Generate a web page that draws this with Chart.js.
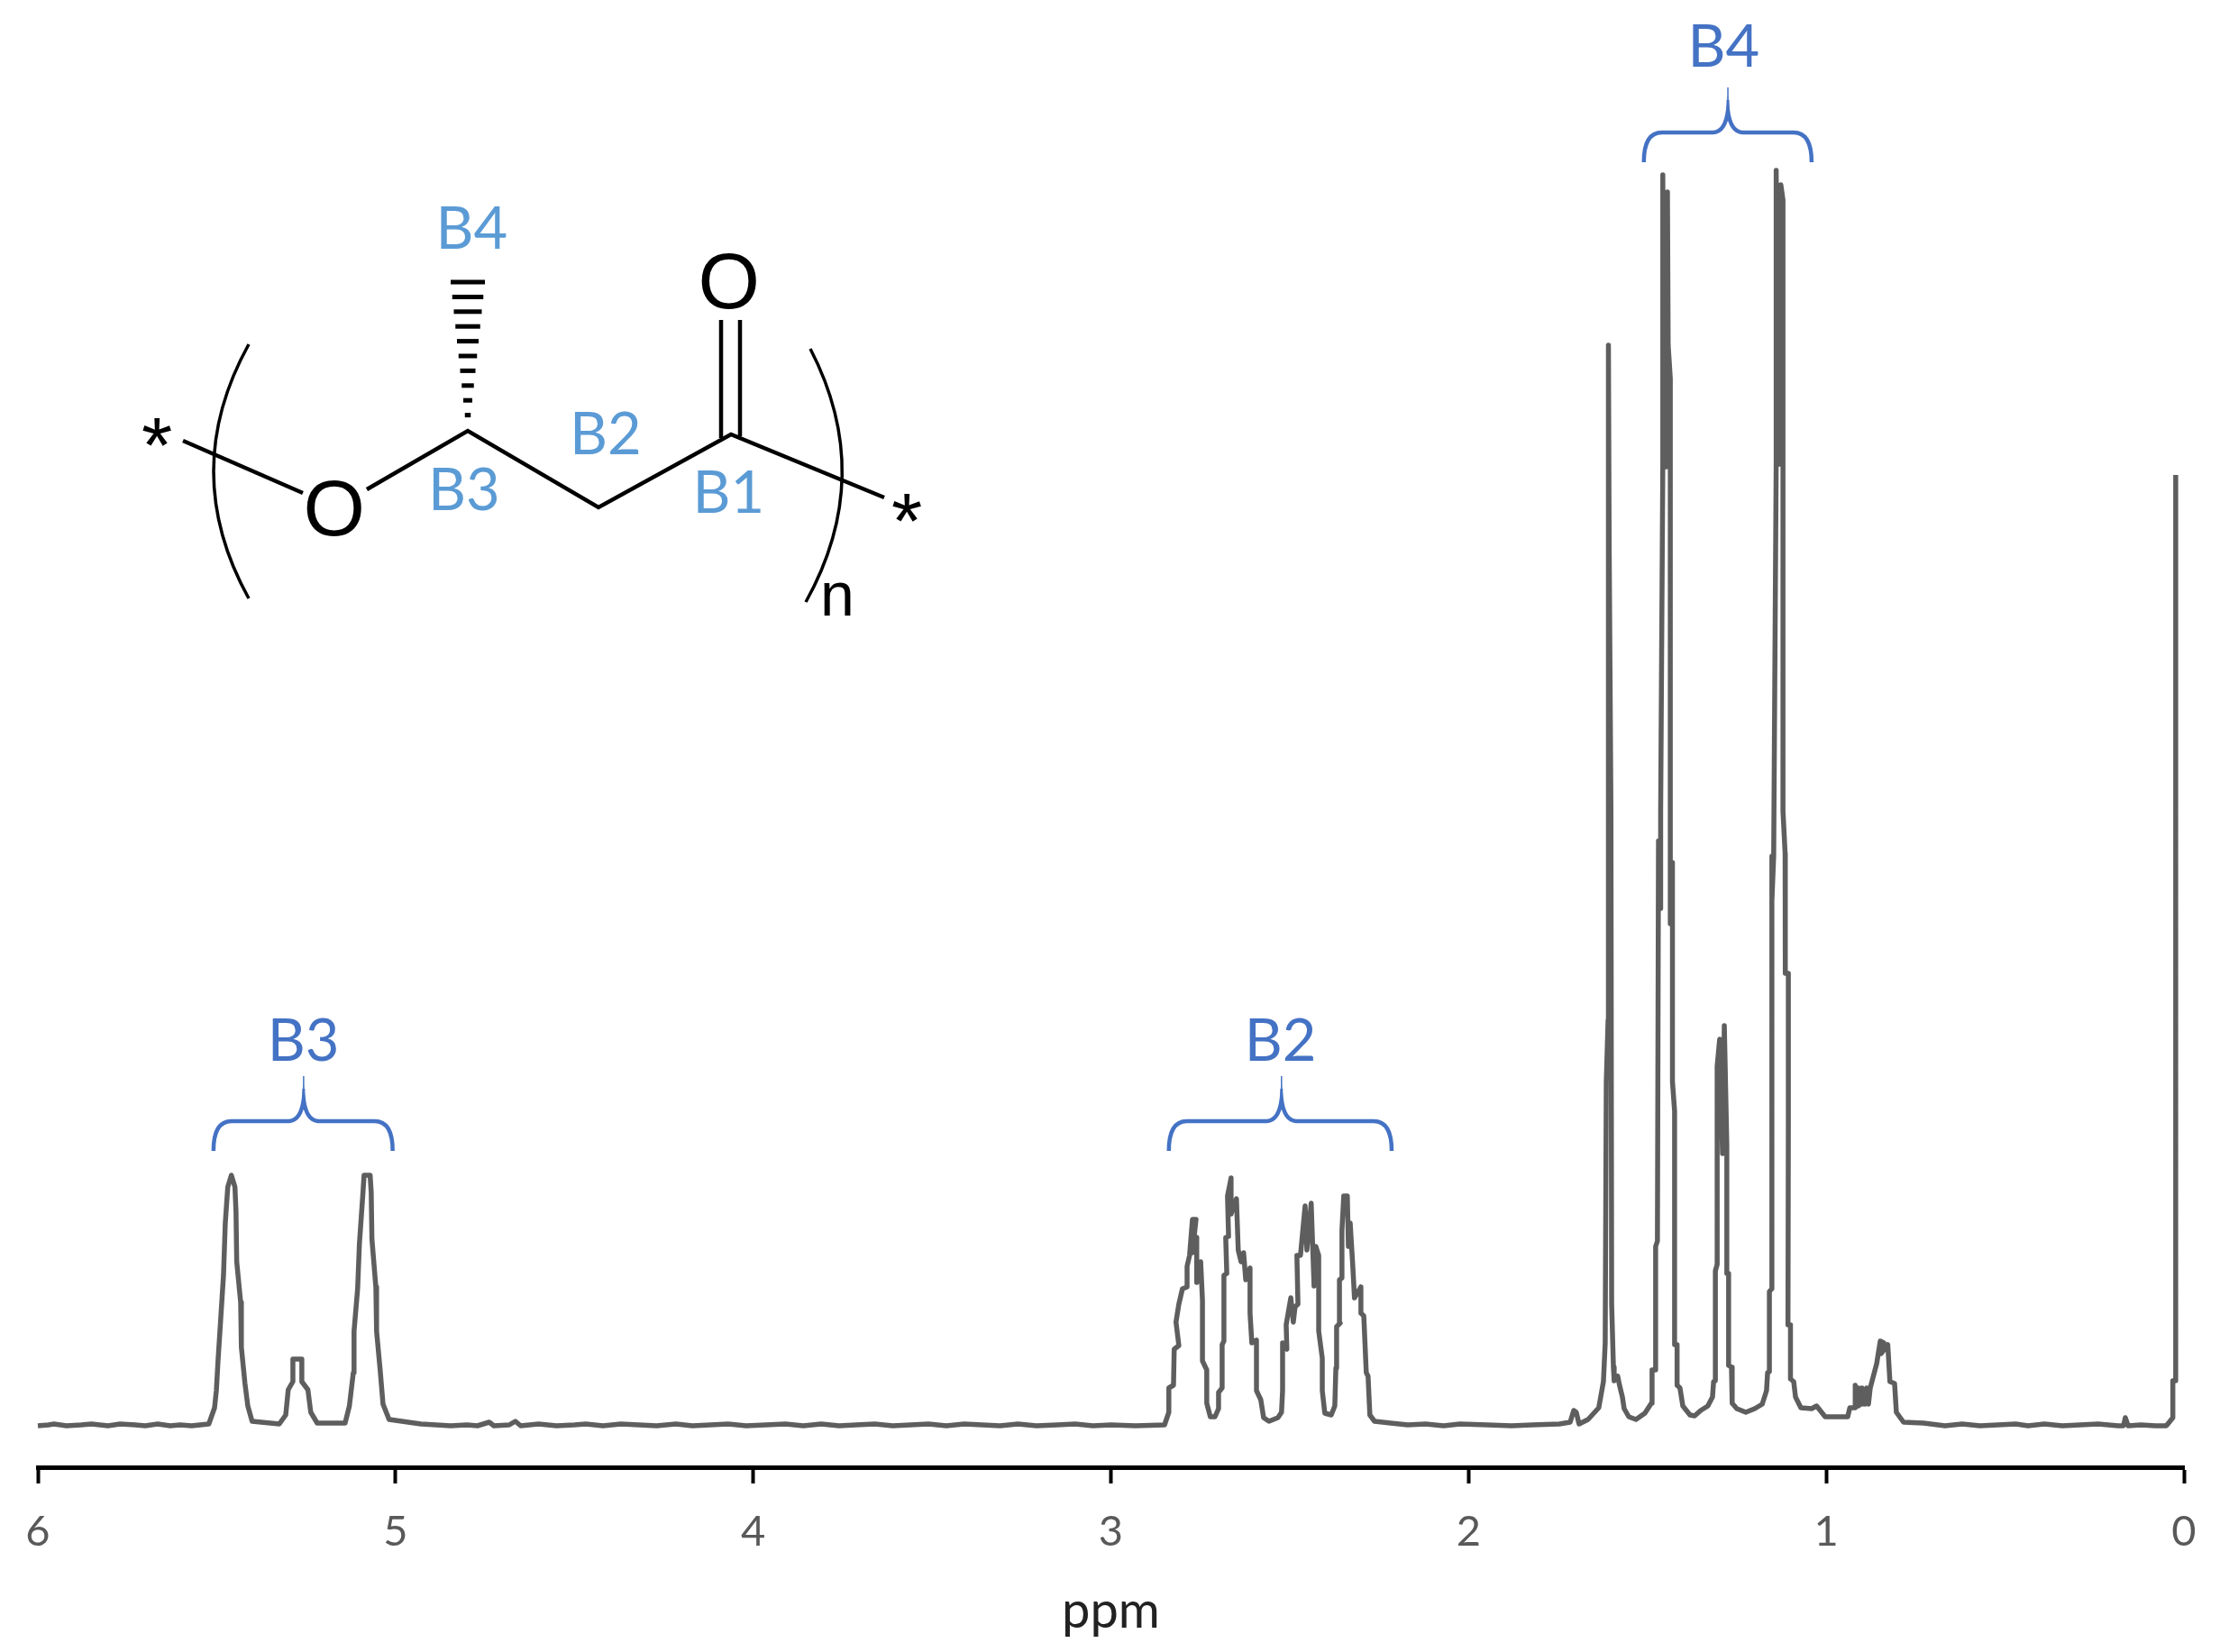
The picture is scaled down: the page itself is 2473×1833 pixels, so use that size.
<!DOCTYPE html>
<html>
<head>
<meta charset="utf-8">
<title>1H NMR spectrum</title>
<script src="https://cdn.jsdelivr.net/npm/chart.js@4"></script>
<style>
  html, body { margin: 0; padding: 0; background: #fff; }
  canvas { display: block; }
</style>
</head>
<body>
<canvas id="myChart" width="2473" height="1833"></canvas>
<script>
// spectrum, one pair of lists per region (ppm, intensity)
const leftBasePpm = [6.000, 5.970, 5.955, 5.920, 5.879, 5.850, 5.804, 5.770, 5.728, 5.700, 5.665, 5.630, 5.602, 5.570];
const leftBaseInt = [0, 1, 2, 0, 1, 2, 0, 2, 1, 0, 2, 0, 1, 0];

const b3Ppm = [5.522, 5.506, 5.501, 5.496, 5.489, 5.481, 5.476, 5.469, 5.459, 5.449, 5.446, 5.444, 5.433, 5.431, 5.421, 5.413, 5.401,
    5.325, 5.307, 5.300, 5.287, 5.287, 5.262, 5.262, 5.245, 5.237, 5.219,
    5.141, 5.129, 5.118, 5.116, 5.106, 5.101, 5.091, 5.088, 5.071, 5.068, 5.066, 5.055, 5.053, 5.043, 5.035, 5.018, 4.929, 4.846];
const b3Int = [2, 20, 39, 74, 117, 167, 225, 265, 278, 265, 237, 182, 137, 87, 47, 22, 5,
    2, 12, 40, 49, 74, 74, 49, 40, 15, 3,
    3, 22, 59, 105, 152, 202, 259, 278, 278, 259, 207, 154, 105, 62, 24, 7, 2, 0];

const midBasePpm = [4.800, 4.771, 4.738, 4.725, 4.682, 4.665, 4.650, 4.600, 4.550, 4.500, 4.468, 4.420, 4.370, 4.320, 4.270, 4.216, 4.170, 4.120, 4.070, 4.020,
    3.964, 3.910, 3.860, 3.810, 3.760, 3.712, 3.660, 3.610, 3.560, 3.510, 3.460, 3.410, 3.360, 3.310, 3.260, 3.208, 3.150, 3.100, 3.050, 3.000, 2.931];
const midBaseInt = [1, 0, 4, 0, 1, 5, 0, 2, 0, 1, 2, 0, 2, 1, 0, 2, 0, 1, 2, 0,
    1, 2, 0, 2, 0, 1, 2, 0, 1, 2, 0, 2, 1, 0, 2, 0, 1, 2, 0, 1, 0];

const b2Ppm = [2.850, 2.838, 2.838, 2.825, 2.823, 2.810, 2.818, 2.810, 2.800, 2.787, 2.787, 2.780, 2.772, 2.762, 2.772, 2.760, 2.760, 2.749, 2.744, 2.744,
    2.732, 2.732, 2.722, 2.709, 2.699, 2.699, 2.689, 2.689, 2.684, 2.684, 2.676, 2.679, 2.671, 2.674, 2.664, 2.664, 2.649, 2.644, 2.636, 2.629,
    2.623, 2.611, 2.611, 2.606, 2.593, 2.593, 2.581, 2.573, 2.558, 2.533, 2.523, 2.520, 2.520, 2.508, 2.510, 2.497, 2.490, 2.485, 2.477, 2.480,
    2.470, 2.457, 2.452, 2.440, 2.432, 2.427, 2.419, 2.419, 2.409, 2.409, 2.402, 2.384, 2.374, 2.371, 2.369, 2.359, 2.361, 2.354, 2.354, 2.349,
    2.339, 2.336, 2.331, 2.324, 2.319, 2.301, 2.301, 2.293, 2.286, 2.281, 2.276, 2.263, 2.218, 2.170, 2.120, 2.070, 2.024];
const b2Int = [1, 15, 42, 45, 85, 89, 115, 135, 152, 154, 177, 189, 229, 229, 192, 209, 159, 182, 139, 72,
    62, 25, 10, 10, 19, 37, 42, 90, 94, 167, 169, 209, 210, 255, 275, 235, 252, 195, 182, 192,
    162, 175, 125, 92, 95, 39, 29, 9, 5, 9, 15, 39, 92, 85, 112, 142, 115, 132, 135, 189,
    189, 244, 195, 247, 155, 199, 189, 105, 75, 39, 14, 12, 22, 64, 110, 114, 162, 164, 217, 255,
    255, 199, 225, 179, 142, 154, 125, 122, 59, 55, 12, 5, 3, 1, 2, 0, 2];

const b4Ppm = [1.948, 1.880, 1.822, 1.746, 1.716, 1.706, 1.699, 1.691, 1.666, 1.636, 1.623, 1.618, 1.615, 1.610, 1.609, 1.607, 1.602, 1.600, 1.595, 1.593, 1.583,
    1.578, 1.570, 1.565, 1.552, 1.532, 1.507, 1.489, 1.487, 1.479, 1.477, 1.472, 1.469, 1.463, 1.463, 1.457, 1.457, 1.452, 1.452, 1.447, 1.444, 1.442, 1.436,
    1.436, 1.430, 1.430, 1.424, 1.424, 1.417, 1.417, 1.409, 1.401, 1.381, 1.368, 1.351, 1.331, 1.318, 1.315, 1.310, 1.310, 1.305, 1.305, 1.298,
    1.290, 1.285, 1.278, 1.278, 1.273, 1.273, 1.265, 1.263, 1.250, 1.225, 1.200, 1.179, 1.167, 1.164, 1.159, 1.159, 1.152, 1.152, 1.152, 1.147,
    1.140, 1.140, 1.134, 1.134, 1.130, 1.127, 1.121, 1.121, 1.115, 1.115, 1.114, 1.106, 1.106, 1.107, 1.100, 1.100, 1.091, 1.086, 1.071, 1.041, 1.027, 1.003];
const b4Int = [1, 0, 1, 2, 4, 17, 15, 2, 7, 20, 49, 92, 382, 450, 1199, 982, 682, 135, 65, 50, 55,
    45, 32, 19, 10, 7, 14, 25, 62, 62, 199, 205, 649, 574, 680, 1064, 1388, 1064, 1330, 1064, 1369, 1199, 1162,
    557, 625, 382, 349, 90, 90, 45, 42, 22, 12, 11, 17, 22, 32, 49, 50, 172, 179, 399, 429,
    302, 444, 312, 169, 169, 67, 65, 25, 19, 15, 19, 24, 39, 59, 60, 149, 152, 632, 582, 632,
    1067, 1393, 1067, 1350, 1067, 1377, 1360, 682, 635, 599, 502, 502, 332, 112, 112, 52, 49, 32, 20, 19, 22, 10];

const upfieldPpm = [0.940, 0.934, 0.919, 0.919, 0.912, 0.910, 0.902, 0.900, 0.892, 0.887, 0.882, 0.877, 0.859, 0.849, 0.839, 0.847, 0.828, 0.822, 0.809, 0.804, 0.784, 0.728, 0.668];
const upfieldInt = [10, 20, 20, 45, 22, 42, 24, 42, 24, 42, 24, 42, 69, 94, 92, 80, 90, 49, 47, 15, 4, 3, 0];

const tmsPpm = [0.620, 0.570, 0.520, 0.470, 0.436, 0.390, 0.340, 0.290, 0.240, 0.184, 0.169, 0.164, 0.156, 0.120, 0.080, 0.050, 0.045, 0.031, 0.031, 0.024, 0.023];
const tmsInt = [2, 0, 1, 2, 0, 2, 0, 1, 2, 0, 0, 9, 0, 1, 0, 0, 2, 9, 50, 50, 1055];

const tickLabels = ['6', '5', '4', '3', '2', '1', '0'];

// braces above the multiplets
const braceLabels = ['B3', 'B2', 'B4'];
const braceFrom = [5.509, 2.838, 1.510];
const braceTo = [5.008, 2.215, 1.041];
const braceTip = [5.257, 2.523, 1.275];
const braceHeight = [338, 338, 1435];
const braceLabelGap = [91, 91, 97];
const braceLabelShift = [1, 0, -3];

const spectrumPpm = [].concat(leftBasePpm, b3Ppm, midBasePpm, b2Ppm, b4Ppm, upfieldPpm, tmsPpm);
const spectrumInt = [].concat(leftBaseInt, b3Int, midBaseInt, b2Int, b4Int, upfieldInt, tmsInt);

const BLUE = '#4472C4';
const LIGHT_BLUE = '#5B9BD5';
const TEXT_FONT = 'Lato, "Open Sans", sans-serif';
const DRAW_FONT = '"Liberation Sans", Arial, sans-serif';

// text centred on its ink, whatever the font's metrics are
function inkText(ctx, text, x, y, font, color) {
    ctx.font = font;
    ctx.fillStyle = color;
    ctx.textAlign = 'left';
    ctx.textBaseline = 'alphabetic';
    const m = ctx.measureText(text);
    const w = m.actualBoundingBoxRight + m.actualBoundingBoxLeft;
    const h = m.actualBoundingBoxAscent + m.actualBoundingBoxDescent;
    ctx.fillText(text, x - w / 2 + m.actualBoundingBoxLeft, y + h / 2 - m.actualBoundingBoxDescent);
}

function line(ctx, x0, y0, x1, y1) {
    ctx.beginPath();
    ctx.moveTo(x0, y0);
    ctx.lineTo(x1, y1);
    ctx.stroke();
}

function drawBrace(ctx, x0, x1, tip, bar) {
    const foot = bar + 33;
    ctx.strokeStyle = BLUE;
    ctx.lineWidth = 4.5;
    ctx.beginPath();
    ctx.moveTo(x0, foot);
    ctx.bezierCurveTo(x0, bar + 10, x0 + 7, bar, x0 + 20, bar);
    ctx.lineTo(tip - 16, bar);
    ctx.quadraticCurveTo(tip - 3, bar - 1, tip, bar - 24);
    ctx.quadraticCurveTo(tip + 3, bar - 1, tip + 16, bar);
    ctx.lineTo(x1 - 20, bar);
    ctx.bezierCurveTo(x1 - 7, bar, x1, bar + 10, x1, foot);
    ctx.stroke();
    ctx.lineWidth = 3;
    line(ctx, tip, bar - 20, tip, bar - 36);
    ctx.lineWidth = 1.5;
    line(ctx, tip, bar - 34, tip, bar - 50);
}

function drawStructure(ctx) {
    ctx.strokeStyle = '#000';
    ctx.lineCap = 'butt';
    ctx.lineJoin = 'miter';

    // brackets
    ctx.lineWidth = 3.5;
    ctx.beginPath();
    ctx.moveTo(276, 382);
    ctx.quadraticCurveTo(198, 523, 276, 664);
    ctx.stroke();
    ctx.beginPath();
    ctx.moveTo(899, 387);
    ctx.quadraticCurveTo(972, 528, 894, 668);
    ctx.stroke();

    // backbone
    ctx.lineWidth = 4.5;
    line(ctx, 203, 489, 336, 547);
    ctx.beginPath();
    ctx.moveTo(407, 543);
    ctx.lineTo(519, 478);
    ctx.lineTo(664, 563);
    ctx.lineTo(811, 482);
    ctx.lineTo(981, 552);
    ctx.stroke();
    line(ctx, 800, 355, 800, 486);
    line(ctx, 821, 355, 821, 484);

    // hashed bond up to the methyl
    for (let i = 0; i < 10; i++) {
        const y = 313 + i * 16.4;
        const half = 19 - i * 1.75;
        ctx.lineWidth = 5;
        line(ctx, 519 - half, y, 519 + half, y);
    }

    inkText(ctx, 'O', 371, 564, '88px ' + DRAW_FONT, '#000');
    inkText(ctx, 'O', 809, 312, '88px ' + DRAW_FONT, '#000');
    inkText(ctx, '*', 174, 479, '88px ' + DRAW_FONT, '#000');
    inkText(ctx, '*', 1006, 563, '88px ' + DRAW_FONT, '#000');
    inkText(ctx, 'n', 929, 664, '68px ' + DRAW_FONT, '#000');

    const font = '65px ' + TEXT_FONT;
    inkText(ctx, 'B4', 525, 252, font, LIGHT_BLUE);
    inkText(ctx, 'B2', 673, 480, font, LIGHT_BLUE);
    inkText(ctx, 'B3', 516, 542, font, LIGHT_BLUE);
    inkText(ctx, 'B1', 809, 545, font, LIGHT_BLUE);
}

const annotations = {
    id: 'annotations',
    afterDraw(chart) {
        const ctx = chart.ctx;
        const x = chart.scales.x;
        const y = chart.scales.y;
        ctx.save();
        drawStructure(ctx);
        braceLabels.forEach((label, i) => {
            const bar = y.getPixelForValue(braceHeight[i]);
            const tip = x.getPixelForValue(braceTip[i]);
            drawBrace(ctx, x.getPixelForValue(braceFrom[i]), x.getPixelForValue(braceTo[i]), tip, bar);
            inkText(ctx, label, tip + braceLabelShift[i], bar - braceLabelGap[i], '65px ' + TEXT_FONT, BLUE);
        });
        ctx.restore();
    }
};

new Chart(document.getElementById('myChart').getContext('2d'), {
    type: 'scatter',
    plugins: [annotations],
    data: {
        datasets: [{
            data: spectrumPpm.map((ppm, i) => ({ x: ppm, y: spectrumInt[i] })),
            showLine: true,
            pointRadius: 0,
            borderColor: '#5E5E5E',
            borderWidth: 5.5,
            borderJoinStyle: 'round',
            tension: 0,
            clip: false
        }]
    },
    options: {
        responsive: false,
        animation: false,
        devicePixelRatio: 1,
        layout: { padding: { left: 42, right: 50, top: 100, bottom: 0 } },
        plugins: { legend: { display: false }, tooltip: { enabled: false } },
        scales: {
            x: {
                type: 'linear',
                reverse: true,
                min: 0,
                max: 6,
                afterFit(scale) { scale.height = 205; },
                afterBuildTicks(scale) {
                    scale.ticks = tickLabels.map(t => ({ value: Number(t) }));
                },
                ticks: {
                    autoSkip: false,
                    maxRotation: 0,
                    padding: 26,
                    color: '#595959',
                    font: { family: TEXT_FONT, size: 47 },
                    callback: value => String(value)
                },
                grid: { drawOnChartArea: false, tickLength: 18, tickColor: '#000', tickWidth: 4 },
                border: { display: true, color: '#000', width: 5 },
                title: {
                    display: true,
                    text: 'ppm',
                    color: '#222',
                    font: { family: TEXT_FONT, size: 56 },
                    padding: { top: 0, bottom: 11 }
                }
            },
            y: {
                display: false,
                min: -46,
                max: 1482
            }
        }
    }
});
</script>
</body>
</html>
